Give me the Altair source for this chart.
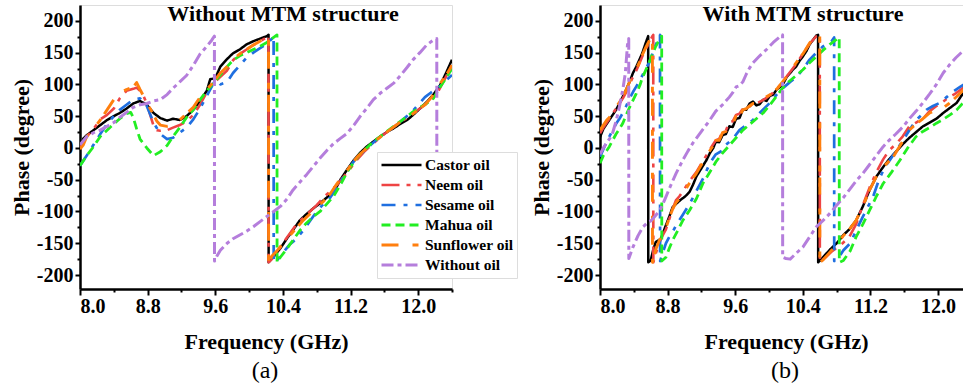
import altair as alt
import pandas as pd

SERIES = ["Castor oil", "Neem oil", "Sesame oil", "Mahua oil", "Sunflower oil", "Without oil"]
COLORS = ["#000000", "#EE4444", "#1F6FE0", "#22EE22", "#FF7F0E", "#B57EDC"]
DASHES = [[1, 0], [18, 7, 4, 7], [14, 8, 4, 8], [9, 5], [17, 14, 6, 6], [12, 4, 4, 4]]
WIDTHS = [2.5, 3, 3, 3, 3, 3]

TITLE_A = "Without MTM structure"
TITLE_B = "With MTM structure"
CAPTION_A = "(a)"
CAPTION_B = "(b)"
X_TITLE = "Frequency (GHz)"
Y_TITLE = "Phase (degree)"
X_TICKS = [8.0, 8.4, 8.8, 9.2, 9.6, 10.0, 10.4, 10.8, 11.2, 11.6, 12.0, 12.4]
Y_TICKS = [-200, -175, -150, -125, -100, -75, -50, -25, 0, 25, 50, 75, 100, 125, 150, 175, 200]

# ---------- panel (a): without MTM ----------
A_CASTOR = [(8.0, 0), (8.04, 15), (8.08, 20), (8.16, 28), (8.24, 36), (8.32, 44), (8.40, 50), (8.47, 55),
            (8.55, 62), (8.63, 70), (8.71, 74), (8.79, 68), (8.87, 55), (8.95, 47), (9.03, 43), (9.10, 46),
            (9.18, 44), (9.26, 50), (9.34, 60), (9.42, 74), (9.50, 90), (9.54, 108), (9.60, 110), (9.66, 128),
            (9.74, 140), (9.81, 149), (9.89, 155), (9.97, 163), (10.05, 168), (10.13, 172), (10.21, 176),
            (10.23, 178), (10.231, -180), (10.25, -177), (10.31, -168), (10.37, -158), (10.45, -142),
            (10.52, -129), (10.60, -114), (10.68, -104), (10.76, -95), (10.84, -87), (10.92, -78), (11.0, -70),
            (11.08, -50), (11.16, -34), (11.24, -19), (11.31, -8), (11.39, 2), (11.47, 10), (11.55, 18),
            (11.63, 25), (11.71, 31), (11.79, 38), (11.87, 44), (11.94, 52), (12.02, 62), (12.10, 72),
            (12.18, 84), (12.26, 99), (12.33, 118), (12.40, 139)]
A_NEEM = [(8.0, 0), (8.08, 18), (8.16, 30), (8.24, 45), (8.32, 52), (8.40, 62), (8.47, 78), (8.55, 90),
          (8.63, 93), (8.67, 95), (8.71, 90), (8.75, 82), (8.79, 70), (8.83, 52), (8.87, 35), (8.91, 28),
          (8.95, 27), (9.03, 28), (9.10, 32), (9.18, 36), (9.26, 42), (9.34, 52), (9.42, 68), (9.50, 88),
          (9.58, 102), (9.66, 112), (9.74, 122), (9.81, 138), (9.89, 148), (9.97, 155), (10.05, 162),
          (10.13, 168), (10.21, 174), (10.23, 177), (10.231, -180), (10.27, -175), (10.33, -165),
          (10.40, -150), (10.48, -135), (10.56, -120), (10.64, -110), (10.72, -100), (10.80, -90),
          (10.88, -78), (10.96, -68), (11.04, -58), (11.12, -45), (11.20, -32), (11.28, -18), (11.36, -6),
          (11.44, 4), (11.52, 13), (11.60, 22), (11.68, 30), (11.76, 38), (11.84, 45), (11.92, 52),
          (12.00, 60), (12.08, 68), (12.16, 76), (12.24, 90), (12.32, 110), (12.40, 130)]
A_SESAME = [(8.0, -28), (8.08, -12), (8.16, 5), (8.24, 22), (8.32, 38), (8.40, 50), (8.47, 60), (8.55, 68),
            (8.63, 76), (8.71, 78), (8.79, 66), (8.87, 40), (8.95, 22), (9.03, 14), (9.10, 16), (9.18, 24),
            (9.26, 32), (9.34, 45), (9.42, 62), (9.50, 82), (9.58, 102), (9.62, 106), (9.66, 100),
            (9.74, 104), (9.81, 118), (9.89, 130), (9.97, 142), (10.05, 150), (10.13, 157), (10.21, 164),
            (10.27, 172), (10.29, 177), (10.291, -180), (10.33, -177), (10.40, -165), (10.48, -152),
            (10.56, -143), (10.64, -130), (10.72, -115), (10.80, -100), (10.88, -88), (10.96, -78),
            (11.04, -62), (11.12, -45), (11.20, -28), (11.28, -14), (11.36, -5), (11.44, 5), (11.52, 14),
            (11.60, 22), (11.68, 30), (11.76, 38), (11.84, 47), (11.92, 56), (12.00, 68), (12.08, 80),
            (12.16, 88), (12.24, 95), (12.32, 105), (12.40, 115)]
A_MAHUA = [(8.0, -28), (8.08, -12), (8.16, 2), (8.24, 18), (8.32, 28), (8.40, 38), (8.47, 46), (8.55, 54),
           (8.60, 56), (8.63, 48), (8.67, 30), (8.71, 14), (8.79, 0), (8.87, -12), (8.95, -6), (9.03, 4),
           (9.10, 18), (9.18, 32), (9.26, 48), (9.34, 60), (9.42, 76), (9.50, 90), (9.58, 102), (9.66, 115),
           (9.74, 128), (9.81, 138), (9.89, 145), (9.97, 150), (10.05, 155), (10.13, 160), (10.21, 166),
           (10.29, 174), (10.33, 178), (10.331, -180), (10.37, -172), (10.44, -160), (10.52, -145),
           (10.60, -130), (10.68, -118), (10.76, -108), (10.84, -100), (10.92, -88), (11.00, -76),
           (11.08, -58), (11.16, -38), (11.24, -22), (11.31, -10), (11.39, 0), (11.47, 10), (11.55, 18),
           (11.63, 26), (11.71, 34), (11.79, 42), (11.87, 50), (11.94, 57), (12.02, 64), (12.10, 70),
           (12.18, 78), (12.26, 96), (12.33, 110), (12.40, 125)]
A_SUNFLOWER = [(8.0, -2), (8.04, 5), (8.08, 18), (8.16, 30), (8.24, 44), (8.32, 60), (8.40, 76), (8.47, 86),
               (8.55, 92), (8.63, 96), (8.67, 103), (8.71, 92), (8.75, 82), (8.83, 62), (8.91, 42),
               (8.95, 36), (9.03, 34), (9.10, 36), (9.18, 44), (9.26, 54), (9.34, 64), (9.42, 80),
               (9.50, 92), (9.58, 104), (9.66, 118), (9.74, 128), (9.81, 140), (9.89, 148), (9.97, 155),
               (10.05, 162), (10.13, 168), (10.21, 175), (10.23, 178), (10.231, -180), (10.27, -170),
               (10.33, -162), (10.40, -150), (10.48, -138), (10.56, -126), (10.64, -114), (10.72, -104),
               (10.80, -94), (10.88, -84), (10.96, -72), (11.04, -56), (11.12, -42), (11.20, -28),
               (11.28, -14), (11.36, -4), (11.44, 6), (11.52, 14), (11.60, 22), (11.68, 30), (11.76, 38),
               (11.84, 46), (11.92, 52), (12.00, 60), (12.08, 68), (12.16, 80), (12.24, 98), (12.32, 112),
               (12.40, 130)]
A_WITHOUT = [(8.0, 5), (8.08, 18), (8.16, 24), (8.24, 28), (8.32, 34), (8.40, 40), (8.47, 48), (8.55, 56),
             (8.63, 64), (8.71, 68), (8.79, 70), (8.87, 74), (8.95, 76), (9.03, 84), (9.10, 94), (9.18, 104),
             (9.26, 114), (9.34, 130), (9.42, 148), (9.50, 160), (9.56, 170), (9.59, 176), (9.591, -178),
             (9.62, -170), (9.66, -161), (9.74, -150), (9.81, -143), (9.89, -137), (9.97, -131),
             (10.05, -124), (10.13, -116), (10.21, -108), (10.29, -100), (10.37, -92), (10.45, -80),
             (10.52, -66), (10.60, -54), (10.68, -42), (10.76, -29), (10.84, -16), (10.92, -4), (11.0, 7),
             (11.08, 15), (11.16, 23), (11.24, 36), (11.31, 49), (11.39, 62), (11.47, 76), (11.55, 86),
             (11.63, 94), (11.71, 102), (11.79, 114), (11.87, 127), (11.94, 139), (12.02, 150), (12.10, 162),
             (12.18, 170), (12.22, 172), (12.221, -178), (12.30, -172), (12.40, -165)]

# ---------- panel (b): with MTM ----------
B_CASTOR = [(8.0, 17), (8.04, 30), (8.08, 38), (8.11, 44), (8.15, 52), (8.19, 60), (8.23, 70), (8.27, 81),
            (8.31, 92), (8.35, 104), (8.39, 118), (8.43, 128), (8.47, 140), (8.50, 149), (8.54, 165),
            (8.57, 176), (8.571, -180), (8.60, -177), (8.63, -160), (8.66, -148), (8.72, -143), (8.77, -125),
            (8.82, -108), (8.86, -93), (8.90, -88), (8.95, -82), (9.01, -76), (9.06, -69), (9.10, -58),
            (9.14, -45), (9.20, -32), (9.26, -19), (9.30, -8), (9.34, 0), (9.37, 10), (9.41, 9), (9.45, 20),
            (9.49, 22), (9.53, 34), (9.57, 33), (9.61, 46), (9.65, 47), (9.69, 60), (9.73, 60), (9.77, 70),
            (9.81, 73), (9.85, 67), (9.89, 69), (9.93, 76), (9.97, 74), (10.01, 82), (10.05, 84), (10.09, 92),
            (10.13, 96), (10.17, 102), (10.21, 112), (10.25, 118), (10.28, 123), (10.32, 128), (10.36, 137),
            (10.40, 144), (10.44, 152), (10.48, 163), (10.52, 170), (10.56, 177), (10.58, 178),
            (10.581, -180), (10.64, -172), (10.72, -160), (10.80, -150), (10.88, -137), (10.95, -128),
            (11.03, -114), (11.11, -92), (11.19, -66), (11.27, -45), (11.35, -30), (11.42, -18),
            (11.50, -6), (11.59, 7), (11.66, 16), (11.74, 25), (11.82, 34), (11.90, 40), (11.98, 46),
            (12.06, 55), (12.13, 62), (12.22, 71), (12.29, 85), (12.37, 100)]
B_NEEM = [(8.0, 23), (8.04, 32), (8.08, 40), (8.11, 46), (8.15, 54), (8.19, 62), (8.23, 70), (8.27, 78),
          (8.31, 88), (8.35, 100), (8.39, 112), (8.43, 122), (8.47, 134), (8.50, 144), (8.54, 155),
          (8.58, 165), (8.62, 176), (8.63, 178), (8.631, -180), (8.66, -166), (8.70, -150), (8.74, -138),
          (8.78, -128), (8.82, -112), (8.86, -96), (8.90, -82), (8.94, -76), (8.98, -68), (9.06, -52),
          (9.14, -38), (9.21, -22), (9.29, -5), (9.33, 4), (9.37, 12), (9.41, 14), (9.45, 26), (9.49, 28),
          (9.53, 40), (9.57, 42), (9.61, 52), (9.65, 54), (9.69, 62), (9.73, 66), (9.77, 65), (9.81, 70),
          (9.85, 70), (9.91, 74), (9.96, 78), (10.04, 86), (10.10, 94), (10.16, 104), (10.24, 118),
          (10.32, 132), (10.40, 148), (10.48, 164), (10.56, 176), (10.60, 178), (10.601, -180),
          (10.67, -172), (10.75, -162), (10.87, -150), (10.95, -140), (11.03, -120), (11.11, -90),
          (11.19, -62), (11.27, -38), (11.35, -18), (11.42, -4), (11.50, 6), (11.58, 18), (11.66, 34),
          (11.74, 40), (11.82, 46), (11.90, 58), (11.98, 66), (12.06, 73), (12.13, 80), (12.21, 86),
          (12.29, 94), (12.37, 102)]
B_SESAME = [(8.0, -14), (8.04, -2), (8.08, 10), (8.11, 18), (8.15, 28), (8.19, 38), (8.23, 46), (8.27, 55),
            (8.31, 66), (8.35, 78), (8.39, 88), (8.43, 97), (8.47, 106), (8.50, 114), (8.54, 124),
            (8.58, 134), (8.62, 148), (8.66, 162), (8.70, 176), (8.71, 178), (8.711, -178), (8.74, -166),
            (8.78, -150), (8.82, -140), (8.86, -132), (8.90, -122), (8.98, -105), (9.06, -88), (9.14, -68),
            (9.22, -48), (9.30, -24), (9.37, -10), (9.45, -4), (9.49, 5), (9.57, 14), (9.65, 28), (9.73, 36),
            (9.81, 44), (9.91, 58), (10.01, 71), (10.09, 84), (10.17, 95), (10.25, 104), (10.33, 112),
            (10.40, 124), (10.48, 139), (10.56, 150), (10.64, 160), (10.74, 168), (10.77, 174),
            (10.771, -178), (10.80, -177), (10.88, -161), (10.96, -150), (11.03, -130), (11.11, -108),
            (11.23, -77), (11.30, -50), (11.37, -30), (11.43, -19), (11.50, -5), (11.59, 13), (11.66, 28),
            (11.74, 44), (11.82, 54), (11.86, 60), (11.94, 66), (12.02, 71), (12.10, 80), (12.18, 89),
            (12.26, 96), (12.33, 102), (12.40, 106)]
B_MAHUA = [(8.0, -24), (8.04, -12), (8.08, -4), (8.11, 2), (8.15, 12), (8.19, 22), (8.23, 30), (8.27, 39),
           (8.31, 52), (8.35, 64), (8.39, 75), (8.43, 86), (8.47, 98), (8.50, 110), (8.54, 122), (8.58, 134),
           (8.62, 148), (8.66, 160), (8.70, 170), (8.73, 176), (8.731, -178), (8.78, -172), (8.82, -158),
           (8.86, -145), (8.92, -130), (8.98, -114), (9.06, -98), (9.14, -80), (9.22, -55), (9.30, -38),
           (9.37, -22), (9.45, -8), (9.53, 4), (9.61, 16), (9.69, 28), (9.77, 37), (9.85, 46), (9.93, 55),
           (10.00, 66), (10.08, 80), (10.17, 96), (10.24, 105), (10.32, 114), (10.40, 123), (10.48, 134),
           (10.56, 144), (10.64, 154), (10.72, 163), (10.79, 170), (10.83, 174), (10.831, -180),
           (10.88, -177), (10.96, -162), (11.03, -140), (11.11, -120), (11.19, -98), (11.27, -76),
           (11.35, -56), (11.45, -38), (11.55, -19), (11.64, 0), (11.74, 18), (11.82, 26), (11.90, 32),
           (11.98, 39), (12.06, 45), (12.14, 52), (12.22, 60), (12.29, 70), (12.37, 82)]
B_SUNFLOWER = [(8.0, 28), (8.04, 36), (8.08, 44), (8.11, 48), (8.15, 56), (8.19, 64), (8.23, 72), (8.27, 80),
               (8.31, 92), (8.35, 104), (8.39, 114), (8.43, 124), (8.47, 136), (8.50, 146), (8.54, 158),
               (8.58, 168), (8.61, 175), (8.62, 177), (8.621, -180), (8.66, -160), (8.70, -146),
               (8.74, -136), (8.78, -126), (8.82, -110), (8.86, -96), (8.90, -86), (8.94, -80), (8.98, -72),
               (9.06, -55), (9.14, -40), (9.21, -24), (9.29, -6), (9.33, 2), (9.37, 12), (9.41, 12),
               (9.45, 24), (9.49, 26), (9.53, 38), (9.57, 38), (9.61, 50), (9.65, 50), (9.69, 60), (9.73, 62),
               (9.77, 66), (9.81, 70), (9.85, 70), (9.91, 76), (9.96, 80), (10.04, 86), (10.10, 94),
               (10.16, 104), (10.24, 118), (10.32, 134), (10.40, 148), (10.48, 165), (10.54, 177),
               (10.60, 178), (10.601, -180), (10.64, -176), (10.72, -164), (10.80, -152), (10.88, -138),
               (10.95, -128), (11.03, -114), (11.11, -92), (11.19, -66), (11.27, -45), (11.35, -30),
               (11.47, -14), (11.56, 6), (11.66, 28), (11.74, 38), (11.82, 46), (11.90, 55), (11.98, 60),
               (12.06, 63), (12.13, 70), (12.22, 81), (12.29, 90), (12.37, 100)]
B_WITHOUT = [(8.0, -10), (8.04, 0), (8.08, 8), (8.12, 16), (8.15, 24), (8.19, 42), (8.23, 65), (8.27, 92),
             (8.30, 118), (8.33, 171), (8.34, 172), (8.341, -174), (8.39, -156), (8.45, -138), (8.51, -124),
             (8.56, -118), (8.61, -114), (8.66, -106), (8.71, -98), (8.77, -80), (8.83, -61), (8.90, -40),
             (8.98, -19), (9.04, -5), (9.10, 8), (9.20, 26), (9.30, 44), (9.37, 58), (9.45, 68), (9.53, 80),
             (9.57, 87), (9.61, 96), (9.65, 98), (9.69, 104), (9.73, 116), (9.77, 126), (9.81, 134),
             (9.89, 145), (9.97, 155), (10.05, 166), (10.12, 174), (10.16, 178), (10.161, -172),
             (10.20, -174), (10.25, -175), (10.32, -166), (10.40, -156), (10.48, -140), (10.56, -124),
             (10.64, -114), (10.72, -103), (10.80, -90), (10.88, -78), (10.95, -66), (11.03, -52),
             (11.11, -40), (11.19, -26), (11.27, -12), (11.35, 2), (11.42, 12), (11.50, 22), (11.59, 34),
             (11.66, 46), (11.74, 58), (11.82, 71), (11.90, 85), (11.98, 100), (12.06, 118), (12.13, 130),
             (12.21, 142), (12.29, 152), (12.37, 162)]

PANEL_A = [A_CASTOR, A_NEEM, A_SESAME, A_MAHUA, A_SUNFLOWER, A_WITHOUT]
PANEL_B = [B_CASTOR, B_NEEM, B_SESAME, B_MAHUA, B_SUNFLOWER, B_WITHOUT]

FONT = "Liberation Serif"


def to_frame(curves):
    rows = []
    for name, pts in zip(SERIES, curves):
        for i, (x, y) in enumerate(pts):
            rows.append({"series": name, "x": x, "y": y, "i": i})
    return pd.DataFrame(rows)


legend = alt.Legend(
    title=None, orient="none", legendX=297, legendY=147, direction="vertical",
    symbolType="stroke", symbolSize=1600, symbolStrokeWidth=3, clipHeight=20,
    labelFont=FONT, labelFontSize=15.5, labelFontWeight="bold", labelColor="black",
    labelOffset=2, strokeColor="#dddddd", fillColor="white", padding=3, rowPadding=0,
)


def panel(curves, xmax, width, title, caption):
    df = to_frame(curves)
    xticks = [v for v in X_TICKS if v <= xmax + 1e-9]
    xaxis = alt.Axis(
        values=xticks, labelExpr="round(datum.value*10) % 8 == 0 ? format(datum.value, '.1f') : ''",
        labelOverlap=False, labelFont=FONT, labelFontSize=20, labelFontWeight="bold", labelColor="black",
        labelPadding=1, domainColor="black", domainWidth=2.5, tickColor="black", tickWidth=2,
        tickSize={"condition": {"test": "round(datum.value*10) % 8 == 0", "value": 6}, "value": 3},
        grid=False, title=X_TITLE, titleFont=FONT, titleFontSize=22, titleFontWeight="bold",
        titleColor="black", titleX=186, titleY=59, titleBaseline="alphabetic", titleAlign="center",
    )
    yaxis = alt.Axis(
        values=Y_TICKS, labelExpr="datum.value % 50 == 0 ? '' + datum.value : ''",
        labelOverlap=False, labelFont=FONT, labelFontSize=20, labelFontWeight="bold", labelColor="black",
        labelPadding=2, domainColor="black", domainWidth=2.5, tickColor="black", tickWidth=2,
        tickSize={"condition": {"test": "datum.value % 50 == 0", "value": 5}, "value": 3},
        grid=False, title=Y_TITLE, titleFont=FONT, titleFontSize=22, titleFontWeight="bold",
        titleColor="black", titleAngle=270, titleX=-52, titleY=142, titleBaseline="alphabetic",
        titleAlign="center",
    )
    lines = alt.Chart(df).mark_line(clip=True, strokeCap="butt", strokeJoin="round").encode(
        x=alt.X("x:Q", scale=alt.Scale(domain=[8.0, xmax], nice=False, zero=False), axis=xaxis),
        y=alt.Y("y:Q", scale=alt.Scale(domain=[-222, 225], nice=False, zero=False), axis=yaxis),
        color=alt.Color("series:N", scale=alt.Scale(domain=SERIES, range=COLORS), legend=legend),
        strokeDash=alt.StrokeDash("series:N", scale=alt.Scale(domain=SERIES, range=DASHES), legend=legend),
        strokeWidth=alt.StrokeWidth("series:N", scale=alt.Scale(domain=SERIES, range=WIDTHS), legend=None),
        order=alt.Order("i:Q"),
    )
    ttl = alt.Chart(pd.DataFrame({"t": [title]})).mark_text(
        font=FONT, fontSize=22, fontWeight="bold", color="black", baseline="alphabetic", align="center"
    ).encode(text="t:N", x=alt.value(203), y=alt.value(16))
    cap = alt.Chart(pd.DataFrame({"t": [caption]})).mark_text(
        font=FONT, fontSize=24, color="black", baseline="alphabetic", align="center"
    ).encode(text="t:N", x=alt.value(185), y=alt.value(373))
    return alt.layer(lines, ttl, cap).properties(width=width, height=284)


left = panel(PANEL_A, 12.4, 372, TITLE_A, CAPTION_A)
right = panel(PANEL_B, 12.33, 366, TITLE_B, CAPTION_B)

chart = alt.hconcat(left, right, spacing=75).properties(
    autosize=alt.AutoSizeParams(type="none"),
    padding={"left": 80, "top": 5, "right": 883, "bottom": 386},
).configure_view(stroke=None).configure(background="white")

chart.save("out.html", embed_options={"renderer": "svg", "actions": False})
